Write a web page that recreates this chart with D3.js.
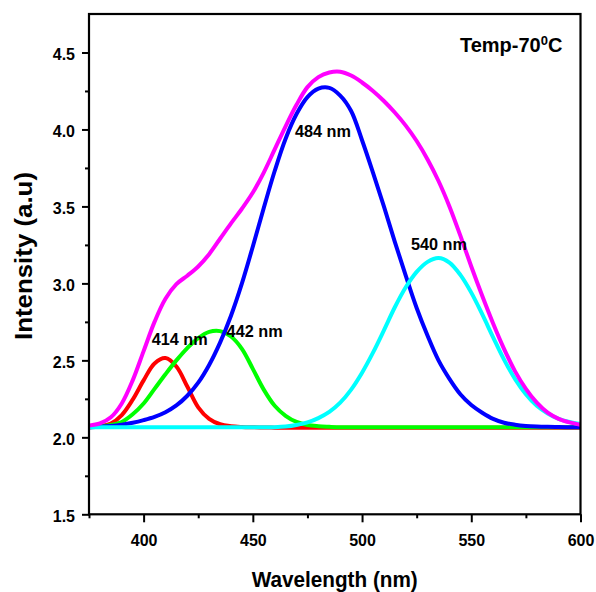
<!DOCTYPE html>
<html>
<head>
<meta charset="utf-8">
<script src="https://cdn.jsdelivr.net/npm/d3@7"></script>
<style>
  body { margin: 0; background: #fff; }
  text { font-family: "Liberation Sans", Arial, sans-serif; font-weight: bold; }
</style>
</head>
<body>
<svg width="596" height="592"></svg>
<script>
const wavelength = [375, 380, 385, 390, 395, 400, 405, 410, 415, 420, 425, 430, 435, 440, 445, 450,
  455, 460, 465, 470, 475, 480, 485, 490, 495, 500, 505, 510, 515, 520, 525, 530, 535, 540, 545, 550,
  555, 560, 565, 570, 575, 580, 585, 590, 595, 600];

const red = [2.066, 2.072, 2.09, 2.145, 2.245, 2.37, 2.48, 2.515, 2.46, 2.33, 2.195, 2.12, 2.085, 2.072, 2.067, 2.065,
  2.064, 2.063, 2.063, 2.063, 2.063, 2.063, 2.063, 2.063, 2.063, 2.063, 2.063, 2.063, 2.063, 2.062, 2.062, 2.062,
  2.062, 2.062, 2.062, 2.062, 2.062, 2.062, 2.062, 2.062, 2.062, 2.062, 2.062, 2.062, 2.062, 2.062];

const green = [2.065, 2.07, 2.08, 2.10, 2.15, 2.22, 2.315, 2.41, 2.50, 2.58, 2.645, 2.685, 2.69, 2.655, 2.575, 2.445,
  2.31, 2.205, 2.14, 2.10, 2.08, 2.072, 2.068, 2.065, 2.065, 2.065, 2.065, 2.065, 2.065, 2.065, 2.065, 2.065,
  2.065, 2.065, 2.065, 2.065, 2.065, 2.065, 2.065, 2.065, 2.065, 2.065, 2.065, 2.065, 2.065, 2.065];

const blue = [2.065, 2.068, 2.073, 2.082, 2.095, 2.112, 2.133, 2.163, 2.207, 2.27, 2.355, 2.47, 2.615, 2.79, 3.00, 3.24,
  3.49, 3.73, 3.94, 4.10, 4.21, 4.265, 4.27, 4.22, 4.12, 3.93, 3.72, 3.50, 3.27, 3.05, 2.84, 2.66,
  2.50, 2.38, 2.28, 2.21, 2.16, 2.12, 2.095, 2.082, 2.074, 2.07, 2.068, 2.067, 2.066, 2.066];

const cyan = [2.065, 2.065, 2.065, 2.065, 2.065, 2.065, 2.065, 2.065, 2.065, 2.065, 2.065, 2.065, 2.065, 2.065, 2.065, 2.065,
  2.065, 2.066, 2.07, 2.08, 2.097, 2.125, 2.165, 2.225, 2.31, 2.42, 2.55, 2.695, 2.845, 2.975, 3.075, 3.14,
  3.165, 3.135, 3.055, 2.94, 2.80, 2.65, 2.505, 2.38, 2.28, 2.205, 2.155, 2.12, 2.10, 2.087];

const magenta = [2.076, 2.09, 2.13, 2.22, 2.37, 2.56, 2.75, 2.90, 2.995, 3.05, 3.11, 3.19, 3.29, 3.39, 3.485, 3.59,
  3.72, 3.87, 4.02, 4.16, 4.275, 4.34, 4.37, 4.375, 4.35, 4.305, 4.25, 4.185, 4.11, 4.025, 3.925, 3.805,
  3.665, 3.50, 3.31, 3.11, 2.92, 2.74, 2.575, 2.43, 2.315, 2.225, 2.16, 2.12, 2.097, 2.082];

const xTicks = [400, 450, 500, 550, 600];
const xMinor = [375, 425, 475, 525, 575];
const yTicks = [1.5, 2.0, 2.5, 3.0, 3.5, 4.0, 4.5];
const yMinor = [1.75, 2.25, 2.75, 3.25, 3.75, 4.25];

const peakLabels = ["414 nm", "442 nm", "484 nm", "540 nm"];

const svg = d3.select("svg");
const plotLeft = 89, plotRight = 580.5, plotTop = 14, plotBottom = 514.3;

const x = d3.scaleLinear().domain([375, 600]).range([plotLeft, plotRight]);
const y = d3.scaleLinear().domain([1.5, 4.75]).range([plotBottom, plotTop]);

// curves, drawn in the same stacking order as the original
const series = [
  { values: red, color: "#ff0000" },
  { values: green, color: "#00ff00" },
  { values: blue, color: "#0000ff" },
  { values: cyan, color: "#00ffff" },
  { values: magenta, color: "#ff00ff" }
];

const line = d3.line()
  .x((d, i) => x(wavelength[i]))
  .y(d => y(d))
  .curve(d3.curveCatmullRom.alpha(0.5));

const plot = svg.append("g");
plot.selectAll("path.curve")
  .data(series)
  .enter().append("path")
  .attr("class", "curve")
  .attr("d", d => line(d.values))
  .attr("fill", "none")
  .attr("stroke", d => d.color)
  .attr("stroke-width", 4)
  .attr("stroke-linejoin", "round");

// axes
function styleAxis(g) {
  g.select(".domain").remove();
  g.selectAll(".tick line").attr("stroke", "#000").attr("stroke-width", 2);
  g.selectAll(".tick text").attr("fill", "#000").style("font-size", "16px");
}

svg.append("g")
  .attr("transform", `translate(0,${plotBottom})`)
  .call(d3.axisBottom(x).tickValues(xTicks).tickFormat(d3.format("d")).tickSize(8).tickPadding(12))
  .call(styleAxis);

svg.append("g")
  .attr("transform", `translate(0,${plotBottom})`)
  .call(d3.axisBottom(x).tickValues(xMinor).tickFormat("").tickSize(4))
  .call(styleAxis);

svg.append("g")
  .attr("transform", `translate(${plotLeft},0)`)
  .call(d3.axisLeft(y).tickValues(yTicks).tickFormat(d3.format(".1f")).tickSize(7).tickPadding(7))
  .call(styleAxis)
  .selectAll(".tick text").attr("dy", "0.42em");

svg.append("g")
  .attr("transform", `translate(${plotLeft},0)`)
  .call(d3.axisLeft(y).tickValues(yMinor).tickFormat("").tickSize(4))
  .call(styleAxis);

svg.append("rect")
  .attr("x", plotLeft).attr("y", plotTop)
  .attr("width", plotRight - plotLeft).attr("height", plotBottom - plotTop)
  .attr("fill", "none").attr("stroke", "#000").attr("stroke-width", 2.2);

// titles
svg.append("text")
  .attr("x", (plotLeft + plotRight) / 2).attr("y", 587)
  .attr("text-anchor", "middle")
  .attr("textLength", 166).attr("lengthAdjust", "spacingAndGlyphs")
  .style("font-size", "22px")
  .text("Wavelength (nm)");

svg.append("text")
  .attr("transform", "translate(31.5,256) rotate(-90)")
  .attr("text-anchor", "middle")
  .attr("textLength", 168).attr("lengthAdjust", "spacingAndGlyphs")
  .style("font-size", "23px")
  .text("Intensity (a.u)");

// peak annotations, anchored in data units
const labelAt = [[403.7, 2.6], [438.0, 2.652], [469.3, 3.951], [522.4, 3.214]];
svg.selectAll("text.peak")
  .data(peakLabels)
  .enter().append("text")
  .attr("class", "peak")
  .attr("x", (d, i) => x(labelAt[i][0]))
  .attr("y", (d, i) => y(labelAt[i][1]))
  .attr("textLength", 56).attr("lengthAdjust", "spacingAndGlyphs")
  .style("font-size", "17px")
  .text(d => d);

const temp = svg.append("text")
  .attr("x", x(544.8)).attr("y", y(4.5))
  .style("font-size", "20px");
temp.append("tspan").text("Temp-70");
temp.append("tspan").attr("dy", -7).style("font-size", "13px").text("0");
temp.append("tspan").attr("dy", 7).text("C");
</script>
</body>
</html>
